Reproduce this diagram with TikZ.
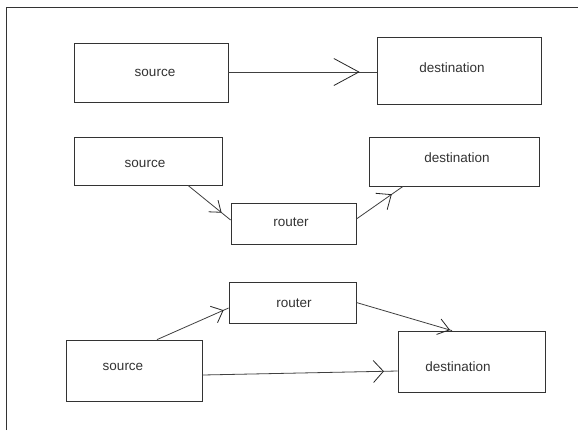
\documentclass[tikz,border=0pt]{standalone}
\usepackage{fontspec}
\setmainfont{Liberation Sans}
\usetikzlibrary{arrows.meta,decorations.markings}
\tikzset{
  box/.style={draw=black!80, line width=0.8bp, rectangle, inner sep=0pt},
  lab/.style={text=black!80, font=\fontsize{13.5bp}{15bp}\selectfont, inner sep=0pt},
  conn/.style={draw=black!75, line width=0.8bp},
  barbat/.style n args={3}{postaction={decorate}, decoration={markings,
      mark=at position #1 with {\arrow[black!85,line width=0.8bp]{Straight Barb[length=#2bp,width=#3bp]}}}}
}
\begin{document}
\begin{tikzpicture}[x=1bp,y=-1bp]
\useasboundingbox (0,0) rectangle (578,430);
\fill[white] (0,0) rectangle (578,430);
% frame
\draw[black!80, line width=0.8bp] (6,430) -- (6,7) -- (578,7);
% boxes
\node[box, minimum width=154bp, minimum height=59bp] (s1) at (151,72.5) {};
\node[box, minimum width=164bp, minimum height=67bp] (d1) at (459,70.5) {};
\node[box, minimum width=148bp, minimum height=48bp] (s2) at (148,161) {};
\node[box, minimum width=125bp, minimum height=41bp] (r2) at (293.5,223.5) {};
\node[box, minimum width=170bp, minimum height=49bp] (d2) at (454,161.5) {};
\node[box, minimum width=136bp, minimum height=61bp] (s3) at (134,370.5) {};
\node[box, minimum width=127bp, minimum height=41bp] (r3) at (292.5,302.5) {};
\node[box, minimum width=147bp, minimum height=61bp] (d3) at (471.5,361.5) {};
% labels
\node[lab] (ts1) at (155,73) {source};
\node[lab] (td1) at (452,68) {destination};
\node[lab] (ts2) at (145,164) {source};
\node[lab] (tr2) at (291,222) {router};
\node[lab] (td2) at (457,158) {destination};
\node[lab] (tr3) at (294,303) {router};
\node[lab] (ts3) at (123,367) {source};
\node[lab] (td3) at (458,367) {destination};
% connectors
\draw[conn, barbat={0.886}{25}{27}] ([yshift=0.5bp]s1.east) -- ([yshift=-1.5bp]d1.west);
\draw[conn, barbat={0.79}{10}{15}] ([xshift=40bp]s2.south) -- ([yshift=3.5bp]r2.west);
\draw[conn, barbat={0.76}{12}{20}] ([yshift=4.5bp]r2.east) -- ([xshift=-51bp]d2.south);
\draw[conn, barbat={0.93}{10}{18}] ([xshift=23bp]s3.north) -- ([yshift=-5.5bp]r3.west);
\draw[conn, barbat={0.98}{11}{16}] (r3.east) -- ([xshift=-19.5bp]d3.north);
\draw[conn, barbat={0.93}{10}{22}] ([yshift=-4.5bp]s3.east) -- ([yshift=-9.5bp]d3.west);
\end{tikzpicture}
\end{document}
